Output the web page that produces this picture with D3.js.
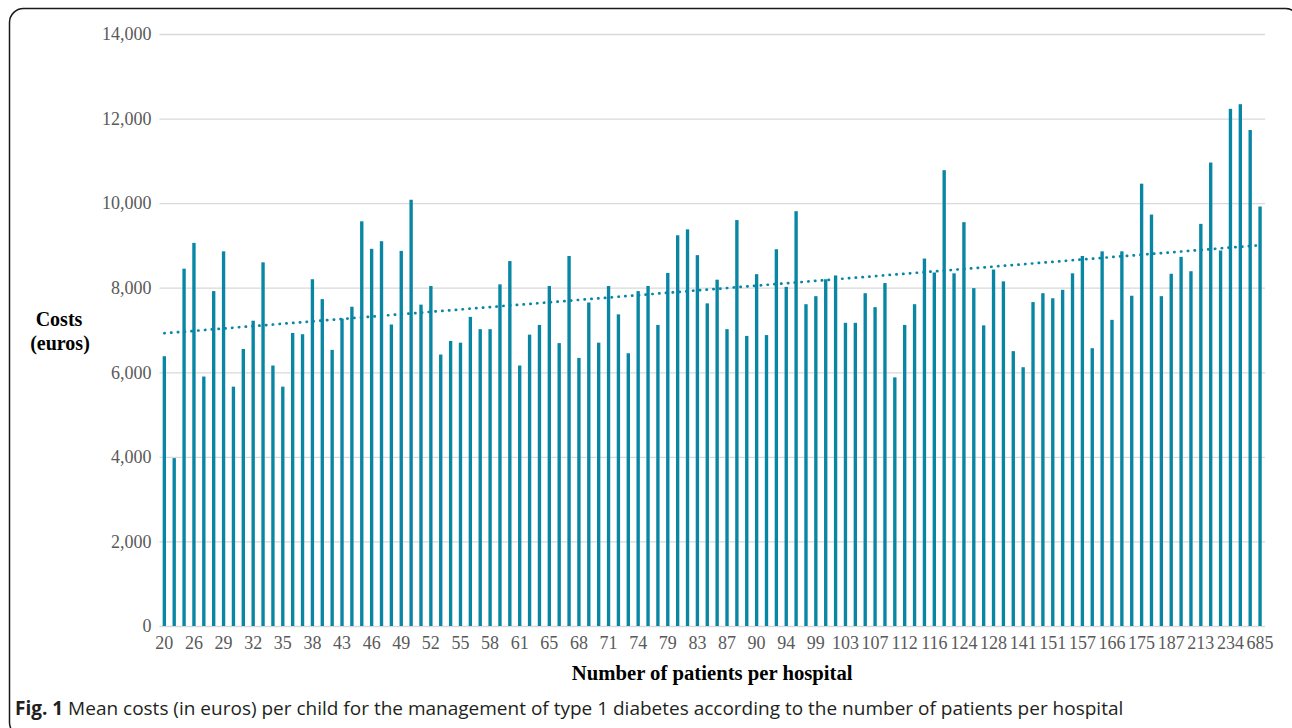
<!DOCTYPE html>
<html>
<head>
<meta charset="utf-8">
<script src="https://cdn.jsdelivr.net/npm/d3@7"></script>
<style>
  html, body { margin: 0; padding: 0; background: #fff; }
  svg { display: block; }
</style>
</head>
<body>
<svg id="chart" width="1292" height="728"></svg>
<script>
// ---- Data ----
// One bar per hospital, sorted by number of patients; only every third label is printed on the axis.
const tickLabels = ["20","26","29","32","35","38","43","46","49","52","55","58","61","65","68","71","74","79","83",
  "87","90","94","99","103","107","112","116","124","128","141","151","157","166","175","187","213","234","685"];
const costs = [
  6380, 3970, 8450, 9060, 5900, 7920, 8860, 5660, 6550, 7220,
  8600, 6160, 5660, 6930, 6900, 8200, 7730, 6530, 7270, 7550,
  9570, 8920, 9100, 7130, 8870, 10080, 7600, 8040, 6420, 6740,
  6700, 7310, 7020, 7020, 8080, 8630, 6160, 6890, 7120, 8040,
  6690, 8750, 6340, 7650, 6700, 8040, 7370, 6450, 7920, 8040,
  7120, 8350, 9240, 9380, 8770, 7630, 8190, 7020, 9600, 6860,
  8320, 6880, 8910, 8020, 9810, 7610, 7800, 8200, 8290, 7170,
  7170, 7870, 7540, 8110, 5880, 7120, 7610, 8690, 8360, 10780,
  8340, 9550, 7990, 7110, 8430, 8150, 6500, 6120, 7660, 7870,
  7750, 7950, 8340, 8750, 6570, 8860, 7240, 8860, 7810, 10460,
  9730, 7800, 8330, 8730, 8390, 9510, 10960, 8880, 12230, 12340,
  11730, 9920
];
const categories = costs.map((d, i) => i);          // hospital rank (label shown every 3rd)
const labelEvery = 3;
const yTicks = [0, 2000, 4000, 6000, 8000, 10000, 12000, 14000];

const barColor = "#0886a3";
const gridColor = "#d9d9d9";
const textGrey = "#595959";

// ---- Layout ----
const svg = d3.select("#chart");
const plot = { left: 159.4, right: 1265, top: 34, bottom: 626 };

// Frame
svg.append("rect")
  .attr("x", 9.5).attr("y", 8.5)
  .attr("width", 1290).attr("height", 728)
  .attr("rx", 14).attr("ry", 14)
  .attr("fill", "none").attr("stroke", "#1a1a1a").attr("stroke-width", 1.5);

const x = d3.scaleBand()
  .domain(categories)
  .range([plot.left, plot.right])
  .paddingInner(0.66)
  .paddingOuter(0.33);

const y = d3.scaleLinear()
  .domain([0, 14000])
  .range([plot.bottom, plot.top]);

// Gridlines + y labels
const yAxis = d3.axisLeft(y)
  .tickValues(yTicks)
  .tickSize(-(plot.right - plot.left))
  .tickPadding(8)
  .tickFormat(d3.format(","));

const gy = svg.append("g")
  .attr("transform", `translate(${plot.left},0)`)
  .call(yAxis);
gy.select(".domain").remove();
gy.selectAll(".tick line").attr("stroke", gridColor).attr("stroke-width", 1.3);
gy.selectAll(".tick text")
  .attr("fill", textGrey)
  .attr("font-family", "'Liberation Serif', 'Times New Roman', serif")
  .attr("font-size", 18);

// Bars
svg.append("g").selectAll("rect")
  .data(costs)
  .join("rect")
  .attr("x", (d, i) => x(categories[i]))
  .attr("width", x.bandwidth())
  .attr("y", d => y(d))
  .attr("height", d => y(0) - y(d))
  .attr("fill", barColor);

// X axis labels (every third category)
const xAxis = d3.axisBottom(x)
  .tickValues(categories.filter(i => i % labelEvery === 0))
  .tickSize(0)
  .tickPadding(10)
  .tickFormat(i => tickLabels[i / labelEvery]);

const gx = svg.append("g")
  .attr("transform", `translate(0,${plot.bottom})`)
  .call(xAxis);
gx.select(".domain").remove();
gx.selectAll(".tick text")
  .attr("fill", textGrey)
  .attr("font-family", "'Liberation Serif', 'Times New Roman', serif")
  .attr("font-size", 18);

// Linear trendline (least squares on rank)
const n = costs.length;
const mx = d3.mean(categories), my = d3.mean(costs);
const slope = d3.sum(categories, (c, i) => (c - mx) * (costs[i] - my)) / d3.sum(categories, c => (c - mx) ** 2);
const icpt = my - slope * mx;
const trend = [categories[0], categories[n - 1]].map(c => [c, icpt + slope * c]);
svg.append("path")
  .datum(trend)
  .attr("d", d3.line().x(d => x(d[0]) + x.bandwidth() / 2).y(d => y(d[1])))
  .attr("fill", "none")
  .attr("stroke", barColor)
  .attr("stroke-width", 2.7)
  .attr("stroke-linecap", "round")
  .attr("stroke-dasharray", "0.3 6.5");

// Axis titles
const serif = "'Liberation Serif', 'Times New Roman', serif";
const yTitle = svg.append("text")
  .attr("font-family", serif).attr("font-weight", "bold").attr("font-size", 20)
  .attr("fill", "#000").attr("text-anchor", "middle");
yTitle.append("tspan").attr("x", 59).attr("y", 326).text("Costs");
yTitle.append("tspan").attr("x", 60).attr("y", 350).text("(euros)");

svg.append("text")
  .attr("x", (plot.left + plot.right) / 2).attr("y", 680)
  .attr("font-family", serif).attr("font-weight", "bold").attr("font-size", 20.7)
  .attr("fill", "#000").attr("text-anchor", "middle")
  .text("Number of patients per hospital");

// Caption
const cap = svg.append("text")
  .attr("x", 15).attr("y", 715)
  .attr("font-family", "'Open Sans', 'Noto Sans', sans-serif")
  .attr("font-size", 19)
  .attr("fill", "#231f20");
cap.append("tspan").attr("font-weight", "bold").text("Fig. 1");
cap.append("tspan").text(" Mean costs (in euros) per child for the management of type 1 diabetes according to the number of patients per hospital");
</script>
</body>
</html>
